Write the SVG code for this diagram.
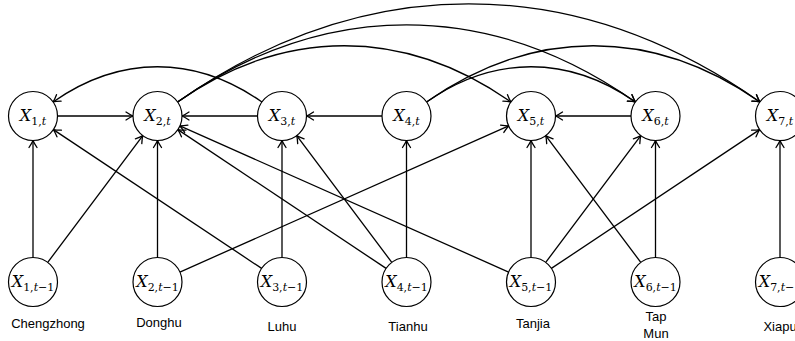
<svg xmlns="http://www.w3.org/2000/svg" width="795" height="341" viewBox="0 0 795 341">
<style>
.n{fill:#fff;stroke:#000;stroke-width:1.2}
.m{font-family:"DejaVu Serif",serif;font-size:16px;fill:#000}
.v{font-style:italic}
.s{font-size:11px}
.lab{font-family:"Liberation Sans",Arial,sans-serif;font-size:13px;fill:#000;text-anchor:middle}
.e{fill:none;stroke:#000;stroke-width:1.3;marker-end:url(#ah)}
</style>
<defs>
<marker id="ah" markerUnits="userSpaceOnUse" viewBox="-9 -6 11 12" refX="0" refY="0" markerWidth="11" markerHeight="12" orient="auto" overflow="visible">
<path d="M-7,-4 Q-2.5,-1 0,0 Q-2.5,1 -7,4" fill="none" stroke="#000" stroke-width="1.3" stroke-linecap="round" stroke-linejoin="round"/>
</marker>
</defs>
<rect width="795" height="341" fill="#fff"/>
<g id="edges">
<line class="e" x1="57.5" y1="116" x2="133" y2="116"/>
<line class="e" x1="257.5" y1="116" x2="182" y2="116"/>
<line class="e" x1="382" y1="116" x2="306.5" y2="116"/>
<line class="e" x1="631" y1="116" x2="555.5" y2="116"/>
<path class="e" d="M261.93,101.95 C194.96,55.01 120.04,55.01 53.07,101.95"/>
<path class="e" d="M177.57,101.95 C284.46,27.04 404.04,27.04 510.93,101.95"/>
<path class="e" d="M177.57,101.95 C324.38,-0.94 488.62,-0.94 635.43,101.95"/>
<path class="e" d="M177.57,101.95 C364.29,-28.92 573.21,-28.92 759.93,101.95"/>
<path class="e" d="M426.57,101.95 C493.54,55.01 568.46,55.01 635.43,101.95"/>
<path class="e" d="M426.57,101.95 C533.46,27.04 653.04,27.04 759.93,101.95"/>
<line class="e" x1="33" y1="257.5" x2="33" y2="140.5"/>
<line class="e" x1="47.7" y1="262.4" x2="142.8" y2="135.6"/>
<line class="e" x1="157.5" y1="257.5" x2="157.5" y2="140.5"/>
<line class="e" x1="179.89" y1="272.05" x2="508.61" y2="125.95"/>
<line class="e" x1="261.62" y1="268.41" x2="53.38" y2="129.59"/>
<line class="e" x1="282" y1="257.5" x2="282" y2="140.5"/>
<line class="e" x1="386.12" y1="268.41" x2="177.88" y2="129.59"/>
<line class="e" x1="391.8" y1="262.4" x2="296.7" y2="135.6"/>
<line class="e" x1="406.5" y1="257.5" x2="406.5" y2="140.5"/>
<line class="e" x1="508.61" y1="272.05" x2="179.89" y2="125.95"/>
<line class="e" x1="531" y1="257.5" x2="531" y2="140.5"/>
<line class="e" x1="545.7" y1="262.4" x2="640.8" y2="135.6"/>
<line class="e" x1="551.38" y1="268.41" x2="759.62" y2="129.59"/>
<line class="e" x1="640.8" y1="262.4" x2="545.7" y2="135.6"/>
<line class="e" x1="655.5" y1="257.5" x2="655.5" y2="140.5"/>
<line class="e" x1="780" y1="257.5" x2="780" y2="140.5"/>
</g>
<g id="n1t"><circle class="n" cx="33" cy="116" r="24.5"/><text class="m" x="33" y="121" text-anchor="middle"><tspan class="v">X</tspan><tspan class="s" dy="3.5">1,<tspan class="v">t</tspan></tspan></text></g>
<g id="n2t"><circle class="n" cx="157.5" cy="116" r="24.5"/><text class="m" x="157.5" y="121" text-anchor="middle"><tspan class="v">X</tspan><tspan class="s" dy="3.5">2,<tspan class="v">t</tspan></tspan></text></g>
<g id="n3t"><circle class="n" cx="282" cy="116" r="24.5"/><text class="m" x="282" y="121" text-anchor="middle"><tspan class="v">X</tspan><tspan class="s" dy="3.5">3,<tspan class="v">t</tspan></tspan></text></g>
<g id="n4t"><circle class="n" cx="406.5" cy="116" r="24.5"/><text class="m" x="406.5" y="121" text-anchor="middle"><tspan class="v">X</tspan><tspan class="s" dy="3.5">4,<tspan class="v">t</tspan></tspan></text></g>
<g id="n5t"><circle class="n" cx="531" cy="116" r="24.5"/><text class="m" x="531" y="121" text-anchor="middle"><tspan class="v">X</tspan><tspan class="s" dy="3.5">5,<tspan class="v">t</tspan></tspan></text></g>
<g id="n6t"><circle class="n" cx="655.5" cy="116" r="24.5"/><text class="m" x="655.5" y="121" text-anchor="middle"><tspan class="v">X</tspan><tspan class="s" dy="3.5">6,<tspan class="v">t</tspan></tspan></text></g>
<g id="n7t"><circle class="n" cx="780" cy="116" r="24.5"/><text class="m" x="780" y="121" text-anchor="middle"><tspan class="v">X</tspan><tspan class="s" dy="3.5">7,<tspan class="v">t</tspan></tspan></text></g>
<g id="n1p"><circle class="n" cx="33" cy="282" r="24.5"/><text class="m" x="33" y="287" text-anchor="middle"><tspan class="v">X</tspan><tspan class="s" dy="3.5">1,<tspan class="v">t</tspan>−1</tspan></text></g>
<g id="n2p"><circle class="n" cx="157.5" cy="282" r="24.5"/><text class="m" x="157.5" y="287" text-anchor="middle"><tspan class="v">X</tspan><tspan class="s" dy="3.5">2,<tspan class="v">t</tspan>−1</tspan></text></g>
<g id="n3p"><circle class="n" cx="282" cy="282" r="24.5"/><text class="m" x="282" y="287" text-anchor="middle"><tspan class="v">X</tspan><tspan class="s" dy="3.5">3,<tspan class="v">t</tspan>−1</tspan></text></g>
<g id="n4p"><circle class="n" cx="406.5" cy="282" r="24.5"/><text class="m" x="406.5" y="287" text-anchor="middle"><tspan class="v">X</tspan><tspan class="s" dy="3.5">4,<tspan class="v">t</tspan>−1</tspan></text></g>
<g id="n5p"><circle class="n" cx="531" cy="282" r="24.5"/><text class="m" x="531" y="287" text-anchor="middle"><tspan class="v">X</tspan><tspan class="s" dy="3.5">5,<tspan class="v">t</tspan>−1</tspan></text></g>
<g id="n6p"><circle class="n" cx="655.5" cy="282" r="24.5"/><text class="m" x="655.5" y="287" text-anchor="middle"><tspan class="v">X</tspan><tspan class="s" dy="3.5">6,<tspan class="v">t</tspan>−1</tspan></text></g>
<g id="n7p"><circle class="n" cx="780" cy="282" r="24.5"/><text class="m" x="780" y="287" text-anchor="middle"><tspan class="v">X</tspan><tspan class="s" dy="3.5">7,<tspan class="v">t</tspan>−1</tspan></text></g>
<g id="labels">
<text class="lab" x="48" y="328">Chengzhong</text>
<text class="lab" x="159" y="327">Donghu</text>
<text class="lab" x="282" y="331">Luhu</text>
<text class="lab" x="408" y="331">Tianhu</text>
<text class="lab" x="533" y="328">Tanjia</text>
<text class="lab" x="656" y="321">Tap</text>
<text class="lab" x="656" y="338">Mun</text>
<text class="lab" x="780" y="331">Xiapu</text>
</g>
</svg>
